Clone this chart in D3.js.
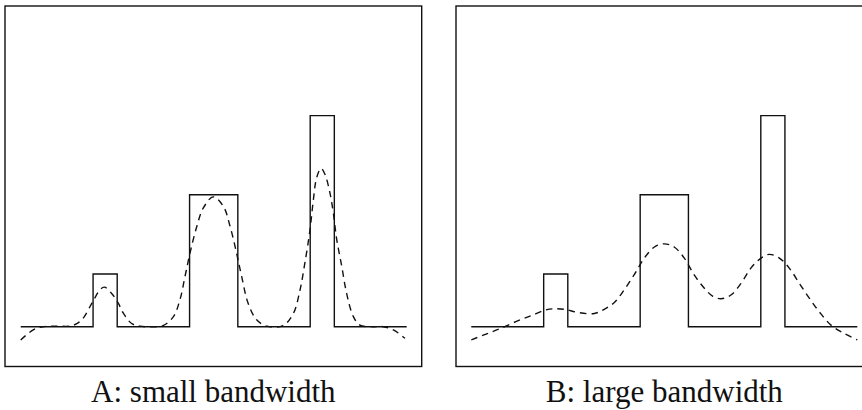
<!DOCTYPE html>
<html>
<head>
<meta charset="utf-8">
<script src="https://cdn.jsdelivr.net/npm/d3@7"></script>
<style>
  html, body { margin: 0; padding: 0; background: #fff; }
  svg { display: block; }
</style>
</head>
<body>
<script>
// ---- data ----
const panelLabels = ["A: small bandwidth", "B: large bandwidth"];

// true density: step function (bin edges and heights)
const stepEdges = [0, 3, 4, 7, 9, 12, 13, 16];
const stepHeights = [0, 0.1, 0, 0.25, 0, 0.4, 0];

// estimate with small bandwidth (dashed, panel A)
const smallX = [0, 0.52, 0.92, 1.5, 2.13, 2.53, 2.98, 3.29, 3.47, 3.77, 4.05, 4.25, 4.6, 4.94, 5.4, 5.9,
  6.33, 6.6, 6.81, 7.02, 7.3, 7.57, 7.98, 8.4, 8.68, 8.95, 9.16, 9.43, 9.78, 10.2, 10.87,
  11.3, 11.58, 11.78, 11.99, 12.13, 12.27, 12.45, 12.61, 12.82, 12.96, 13.1, 13.31, 13.51, 13.79,
  14.06, 14.6, 15.03, 15.45, 15.93];
const smallY = [-0.025, -0.006, 0.0, 0.001, 0.002, 0.013, 0.047, 0.070, 0.075, 0.063, 0.044, 0.026, 0.006, 0.001, 0.0, 0.002,
  0.019, 0.051, 0.095, 0.140, 0.190, 0.225, 0.246, 0.228, 0.190, 0.139, 0.095, 0.044, 0.013, 0.001, 0.002,
  0.025, 0.070, 0.121, 0.183, 0.240, 0.283, 0.300, 0.289, 0.253, 0.215, 0.165, 0.114, 0.063, 0.019,
  0.003, 0.0, 0.0, -0.006, -0.022];

// estimate with large bandwidth (dashed, panel B)
const largeX = [0, 0.61, 1.23, 1.92, 2.54, 3.10, 3.44, 3.86, 4.41, 5.10, 5.51, 5.93, 6.34, 6.76, 7.17, 7.59,
  8.0, 8.41, 8.83, 9.24, 9.66, 10.0, 10.35, 10.76, 11.18, 11.59, 12.01, 12.35, 12.77, 13.18, 13.6,
  14.01, 14.43, 14.91, 15.46, 16];
const largeY = [-0.025, -0.014, -0.003, 0.011, 0.022, 0.032, 0.034, 0.033, 0.027, 0.025, 0.033, 0.046, 0.070, 0.099, 0.130, 0.151,
  0.157, 0.151, 0.130, 0.098, 0.073, 0.058, 0.053, 0.060, 0.082, 0.111, 0.130, 0.137, 0.130, 0.111, 0.082,
  0.054, 0.028, 0.003, -0.013, -0.025];

// ---- layout ----
const W = 862, H = 410;
const svg = d3.select("body").append("svg").attr("width", W).attr("height", H);
svg.append("rect").attr("width", W).attr("height", H).attr("fill", "#fff");

const panels = [
  { frameX: 5, xRange: [20.7, 406.7], ex: smallX, ey: smallY, label: panelLabels[0], textW: 250 },
  { frameX: 456, xRange: [471.3, 857.3], ex: largeX, ey: largeY, label: panelLabels[1], textW: 243 }
];
const frameW = 416.7, frameTop = 6, frameBottom = 366.5;

const y = d3.scaleLinear().domain([0, 0.4]).range([326.7, 115.6]);

const stepPts = stepHeights.map((h, i) => [stepEdges[i], h]);
stepPts.push([stepEdges[stepEdges.length - 1], 0]);

panels.forEach(p => {
  const x = d3.scaleLinear().domain([0, 16]).range(p.xRange);
  const g = svg.append("g");

  g.append("rect")
    .attr("x", p.frameX).attr("y", frameTop)
    .attr("width", frameW).attr("height", frameBottom - frameTop)
    .attr("fill", "none").attr("stroke", "#111").attr("stroke-width", 1.4);

  const stepLine = d3.line().x(d => x(d[0])).y(d => y(d[1])).curve(d3.curveStepAfter);
  g.append("path").datum(stepPts)
    .attr("d", stepLine)
    .attr("fill", "none").attr("stroke", "#111").attr("stroke-width", 1.4);

  const est = p.ex.map((v, i) => [v, p.ey[i]]);
  const estLine = d3.line().x(d => x(d[0])).y(d => y(d[1])).curve(d3.curveCatmullRom.alpha(0.5));
  g.append("path").datum(est)
    .attr("d", estLine)
    .attr("fill", "none").attr("stroke", "#111").attr("stroke-width", 1.4)
    .attr("stroke-dasharray", "6.5,5");

  const t = svg.append("text")
    .attr("x", p.frameX + frameW / 2).attr("y", 402)
    .attr("text-anchor", "middle")
    .attr("font-family", "'Liberation Serif', 'DejaVu Serif', serif")
    .attr("font-size", 29)
    .attr("fill", "#111")
    .text(p.label);
  const len = t.node().getComputedTextLength();
  if (len > 0) t.attr("font-size", Math.min(31, 29 * p.textW / len));
});
</script>
</body>
</html>
